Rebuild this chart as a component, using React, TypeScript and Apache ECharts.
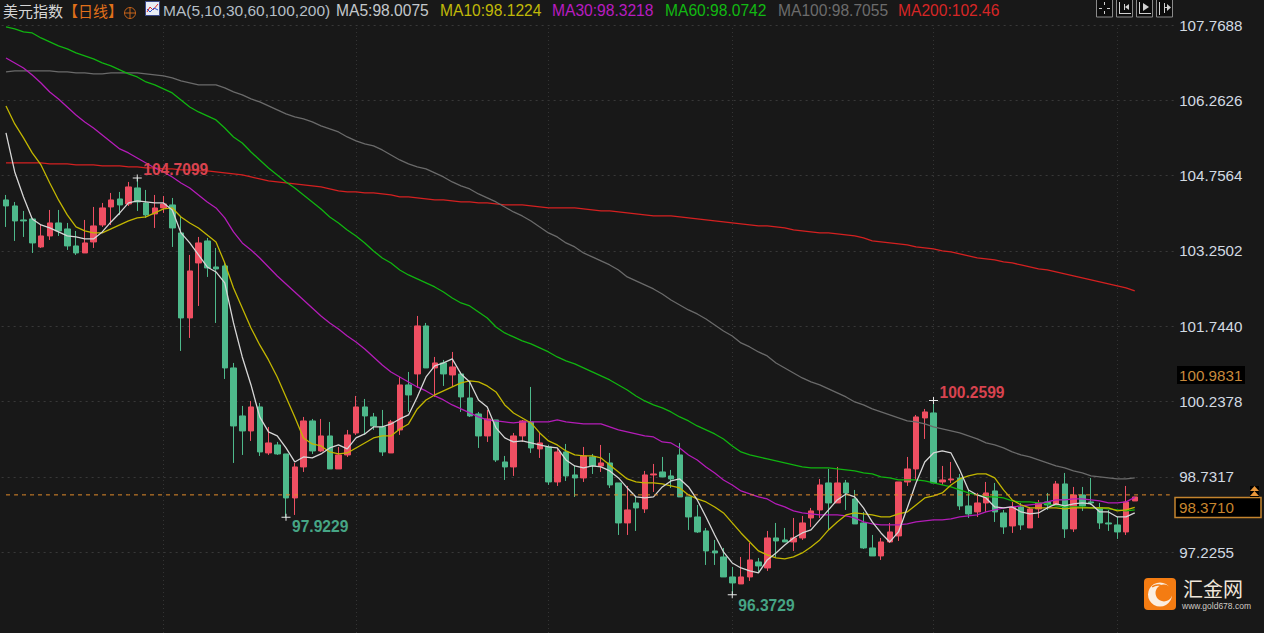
import React, { useEffect, useRef } from "react";
import * as echarts from "echarts";

const LATIN = '"Liberation Sans", Arial, sans-serif';
const CJK = '"Noto Sans CJK SC", sans-serif';

const categories = Array.from({ length: 134 }, (_, i) => String(i + 1));

// open, close, low, high
const candles: number[][] = [
  [104.27,104.15,103.73,104.37],[104.15,103.85,103.45,104.23],[103.87,103.85,103.53,104.05],[103.89,103.41,103.21,103.91],[103.33,103.55,103.31,103.77],[103.55,103.81,103.47,104.07],[103.81,103.65,103.55,104.07],[103.69,103.35,103.27,103.81],[103.35,103.21,103.17,103.65],[103.21,103.41,103.21,103.87],
  [103.43,103.75,103.31,104.13],[103.77,104.11,103.73,104.21],[104.13,104.27,103.77,104.41],[104.29,104.17,103.97,104.43],[104.19,104.53,104.15,104.63],[104.51,104.23,104.05,104.71],[104.21,103.97,103.91,104.47],[103.99,104.11,103.71,104.37],[104.11,104.19,104.01,104.35],[104.17,103.71,103.33,104.31],
  [103.61,101.91,101.25,103.93],[101.91,102.85,101.51,103.17],[103.01,103.41,102.15,103.53],[103.45,102.91,102.73,103.51],[102.93,102.89,101.81,103.31],[102.95,100.91,100.69,103.03],[100.91,99.75,99.01,101.01],[99.95,99.65,99.17,100.15],[99.65,100.13,99.45,100.25],[100.13,99.23,99.15,100.21],
  [99.21,99.41,99.17,99.73],[99.37,99.19,99.17,99.43],[99.19,98.31,97.92,99.19],[98.31,98.93,97.97,99.01],[98.93,99.85,98.83,99.93],[99.85,99.25,99.19,99.89],[99.25,99.55,99.23,99.89],[99.55,98.89,98.89,99.83],[98.89,99.17,98.89,99.33],[99.17,99.57,99.13,99.67],
  [99.61,100.13,99.57,100.35],[100.13,99.95,99.57,100.29],[99.93,99.75,99.67,100.01],[99.73,99.23,99.15,100.07],[99.21,99.83,99.21,99.87],[99.67,100.57,99.57,100.73],[100.57,100.37,100.03,100.83],[100.79,101.75,100.51,101.95],[101.75,100.91,100.91,101.81],[100.91,101.01,100.33,101.13],
  [101.01,100.79,100.55,101.07],[100.77,100.93,100.53,101.23],[100.79,100.33,100.03,100.83],[100.31,99.95,99.93,100.65],[99.99,99.55,99.31,100.03],[99.55,99.89,99.43,100.07],[99.87,99.07,99.03,99.87],[99.03,98.93,98.67,99.15],[98.93,99.55,98.75,99.61],[99.55,99.85,99.43,99.87],
  [99.83,99.31,99.21,100.53],[99.29,99.41,99.11,99.63],[99.33,98.63,98.57,99.37],[98.63,99.23,98.55,99.31],[99.23,98.75,98.65,99.39],[98.77,98.71,98.33,98.95],[98.71,99.15,98.63,99.33],[99.13,98.95,98.79,99.19],[98.95,99.01,98.83,99.37],[99.01,98.57,98.51,99.21],
  [98.61,97.81,97.57,98.61],[97.81,98.07,97.57,98.55],[98.21,98.11,97.65,98.33],[98.09,98.77,98.01,98.85],[98.77,98.79,98.43,98.99],[98.83,98.73,98.73,99.13],[98.75,98.69,98.51,98.87],[99.17,98.33,98.33,99.41],[98.33,97.93,97.67,98.33],[97.93,97.63,97.61,98.17],
  [97.65,97.25,96.97,97.71],[97.25,97.21,96.97,97.47],[97.13,96.73,96.73,97.31],[96.73,96.61,96.37,96.93],[96.59,96.73,96.59,97.13],[96.73,97.07,96.65,97.41],[97.03,96.95,96.81,97.11],[96.91,97.51,96.85,97.65],[97.51,97.45,97.13,97.81],[97.47,97.43,97.43,97.71],
  [97.43,97.51,97.25,97.91],[97.51,97.81,97.47,97.95],[97.91,98.05,97.73,98.11],[98.07,98.57,97.91,98.69],[98.61,98.21,97.67,98.89],[98.21,98.61,98.21,98.93],[98.61,98.41,98.07,98.67],[98.29,97.79,97.79,98.47],[97.81,97.31,97.29,98.03],[97.31,97.15,97.15,97.57],
  [97.15,97.43,97.07,97.51],[97.43,97.63,97.41,97.81],[97.55,98.63,97.45,98.63],[98.63,98.89,98.55,99.13],[98.89,99.93,98.67,99.97],[99.91,100.03,99.49,100.09],[100.01,98.61,98.61,100.26],[98.63,98.67,98.57,98.95],[98.67,98.69,98.61,99.03],[98.71,98.15,98.07,98.79],
  [98.15,97.99,97.91,98.47],[98.03,98.21,97.93,98.41],[98.21,98.41,98.03,98.63],[98.45,98.03,97.83,98.61],[98.01,97.73,97.59,98.07],[97.75,98.13,97.61,98.23],[98.13,97.77,97.67,98.21],[97.71,98.09,97.71,98.13],[98.09,98.21,97.91,98.27],[98.23,98.17,98.07,98.41],
  [98.17,98.59,98.17,98.65],[98.59,97.69,97.51,98.81],[97.69,98.37,97.63,98.53],[98.37,98.15,98.05,98.53],[98.23,98.21,98.17,98.71],[98.11,97.81,97.69,98.21],[97.81,97.79,97.65,98.07],[97.77,97.63,97.49,97.93],[97.63,98.23,97.57,98.55],[98.25,98.33,98.25,98.33],
];

const ma5 = [
  105.61,104.83,104.33,103.89,103.77,103.71,103.63,103.55,103.53,103.49,
  103.49,103.63,103.83,104.01,104.21,104.25,104.23,104.21,104.21,104.07,
  103.61,103.41,103.17,102.93,102.83,102.61,101.81,101.13,100.57,99.93,
  99.63,99.55,99.31,99.03,99.13,99.11,99.19,99.31,99.37,99.29,
  99.51,99.59,99.73,99.73,99.79,99.89,99.97,100.33,100.73,100.95,
  101.01,101.09,100.79,100.63,100.27,100.13,99.71,99.51,99.43,99.45,
  99.41,99.37,99.33,99.31,99.07,98.95,98.91,98.95,98.93,98.85,
  98.71,98.51,98.33,98.31,98.33,98.53,98.65,98.69,98.53,98.27,
  97.93,97.57,97.23,97.01,96.91,96.85,96.81,97.07,97.21,97.37,
  97.51,97.61,97.67,97.87,98.07,98.27,98.39,98.33,98.11,97.83,
  97.61,97.43,97.63,98.11,98.61,99.03,99.21,99.25,99.21,98.87,
  98.47,98.37,98.31,98.13,98.11,98.13,98.03,97.99,98.01,98.11,
  98.19,98.15,98.19,98.21,98.19,98.03,98.03,97.93,97.93,98.01,
];
const ma10 = [
  106.15,105.79,105.51,105.21,104.97,104.61,104.27,103.97,103.73,103.65,
  103.61,103.61,103.69,103.77,103.85,103.91,103.93,104.01,104.09,104.11,
  103.93,103.81,103.71,103.57,103.43,103.01,102.51,102.11,101.71,101.37,
  101.07,100.73,100.33,99.93,99.51,99.39,99.35,99.23,99.19,99.21,
  99.31,99.41,99.51,99.55,99.55,99.69,99.79,100.09,100.27,100.37,
  100.45,100.53,100.61,100.65,100.63,100.55,100.43,100.17,100.01,99.91,
  99.81,99.61,99.45,99.37,99.25,99.17,99.15,99.15,99.11,98.97,
  98.83,98.69,98.63,98.61,98.61,98.59,98.55,98.51,98.37,98.29,
  98.23,98.13,98.01,97.81,97.61,97.43,97.25,97.17,97.11,97.09,
  97.13,97.21,97.33,97.47,97.67,97.83,97.97,98.01,97.99,97.97,
  97.93,97.93,97.99,98.03,98.17,98.31,98.35,98.41,98.57,98.69,
  98.75,98.79,98.79,98.71,98.47,98.27,98.17,98.11,98.11,98.11,
  98.11,98.09,98.11,98.11,98.11,98.11,98.11,98.05,98.07,98.12,
];
const ma30 = [
  107.11,107.01,106.91,106.77,106.61,106.43,106.29,106.13,105.97,105.83,
  105.71,105.57,105.43,105.29,105.21,105.11,105.01,104.91,104.83,104.73,
  104.61,104.51,104.37,104.23,104.11,103.91,103.63,103.41,103.27,103.11,
  102.93,102.75,102.59,102.43,102.27,102.11,101.95,101.81,101.69,101.55,
  101.43,101.29,101.13,100.97,100.83,100.73,100.63,100.53,100.45,100.35,
  100.27,100.17,100.09,100.01,99.93,99.87,99.85,99.83,99.81,99.83,
  99.83,99.83,99.83,99.87,99.83,99.81,99.79,99.79,99.79,99.73,
  99.67,99.63,99.59,99.55,99.53,99.43,99.41,99.31,99.17,99.07,
  98.93,98.81,98.67,98.57,98.45,98.39,98.33,98.29,98.19,98.13,
  98.05,98.01,97.99,97.97,97.97,97.97,97.95,97.91,97.83,97.79,
  97.77,97.77,97.77,97.79,97.83,97.85,97.87,97.87,97.89,97.93,
  97.95,97.97,98.03,98.07,98.11,98.13,98.15,98.17,98.19,98.23,
  98.27,98.27,98.29,98.29,98.27,98.25,98.21,98.21,98.23,98.32,
];
const ma60 = [
  107.73,107.69,107.63,107.61,107.51,107.43,107.35,107.29,107.21,107.15,
  107.09,107.01,106.95,106.87,106.79,106.73,106.63,106.57,106.49,106.41,
  106.27,106.13,106.03,105.95,105.87,105.71,105.53,105.41,105.23,105.07,
  104.91,104.77,104.63,104.51,104.37,104.23,104.09,103.93,103.81,103.67,
  103.55,103.41,103.25,103.11,103.01,102.87,102.77,102.69,102.61,102.53,
  102.43,102.31,102.21,102.15,102.03,101.91,101.73,101.61,101.53,101.45,
  101.39,101.31,101.23,101.13,101.05,100.99,100.91,100.83,100.75,100.67,
  100.57,100.47,100.35,100.25,100.17,100.11,100.03,99.93,99.85,99.75,
  99.67,99.59,99.49,99.35,99.23,99.17,99.13,99.09,99.05,99.01,
  98.97,98.93,98.91,98.91,98.91,98.89,98.87,98.85,98.81,98.79,
  98.73,98.71,98.67,98.67,98.67,98.65,98.61,98.57,98.53,98.47,
  98.41,98.37,98.33,98.33,98.31,98.25,98.23,98.23,98.21,98.19,
  98.15,98.13,98.13,98.13,98.11,98.11,98.09,98.07,98.05,98.07,
];
const ma100 = [
  106.83,106.85,106.85,106.85,106.85,106.85,106.83,106.83,106.81,106.81,
  106.79,106.79,106.81,106.81,106.81,106.81,106.79,106.77,106.75,106.71,
  106.65,106.61,106.57,106.57,106.57,106.51,106.43,106.37,106.29,106.23,
  106.15,106.07,105.99,105.93,105.89,105.83,105.75,105.69,105.63,105.53,
  105.45,105.39,105.35,105.27,105.17,105.07,104.99,104.93,104.89,104.81,
  104.73,104.63,104.55,104.49,104.39,104.31,104.23,104.13,104.03,103.95,
  103.85,103.73,103.61,103.53,103.41,103.33,103.21,103.13,103.05,102.97,
  102.87,102.73,102.65,102.57,102.49,102.39,102.27,102.17,102.07,101.99,
  101.89,101.77,101.65,101.55,101.41,101.33,101.23,101.15,101.01,100.91,
  100.81,100.71,100.63,100.57,100.49,100.41,100.33,100.23,100.17,100.09,
  100.03,99.97,99.91,99.85,99.83,99.79,99.73,99.69,99.65,99.61,
  99.55,99.49,99.41,99.37,99.31,99.23,99.17,99.13,99.07,99.01,
  98.95,98.91,98.85,98.81,98.75,98.73,98.71,98.69,98.69,98.71,
];
const ma200 = [
  105.01,105.01,105.01,105.01,105.01,104.99,104.99,104.99,104.97,104.97,
  104.97,104.95,104.95,104.95,104.93,104.93,104.91,104.91,104.89,104.89,
  104.87,104.87,104.85,104.85,104.83,104.81,104.79,104.77,104.73,104.69,
  104.65,104.63,104.61,104.59,104.57,104.55,104.53,104.49,104.45,104.43,
  104.43,104.41,104.41,104.39,104.37,104.33,104.33,104.31,104.29,104.27,
  104.27,104.25,104.23,104.23,104.21,104.21,104.19,104.17,104.17,104.17,
  104.15,104.13,104.11,104.11,104.11,104.11,104.09,104.07,104.05,104.05,
  104.03,104.01,103.99,103.97,103.95,103.95,103.95,103.93,103.91,103.89,
  103.87,103.85,103.83,103.81,103.79,103.77,103.75,103.75,103.73,103.71,
  103.67,103.65,103.63,103.61,103.61,103.59,103.57,103.55,103.51,103.45,
  103.43,103.41,103.39,103.37,103.33,103.31,103.29,103.25,103.23,103.19,
  103.15,103.11,103.09,103.07,103.03,103.01,102.97,102.93,102.89,102.87,
  102.83,102.79,102.75,102.71,102.67,102.63,102.59,102.55,102.51,102.45,
];

const yTicks = [107.7688, 106.2626, 104.7564, 103.2502, 101.744, 100.2378, 98.7317, 97.2255];
const monthStarts = [18, 40, 62, 83, 106, 127];
const extremes = [
  { index: 15, value: 104.7099, kind: "high", dy: -8 },
  { index: 32, value: 97.9229, kind: "low", dy: 9 },
  { index: 83, value: 96.3729, kind: "low", dy: 11 },
  { index: 106, value: 100.2599, kind: "high", dy: -8 },
];
const lastPrice = 98.371;
const sidePrice = "100.9831";
const legendItems = [
  { text: "MA5:98.0075", x: 336, color: "#c4c8cc" },
  { text: "MA10:98.1224", x: 440, color: "#c0b808" },
  { text: "MA30:98.3218", x: 552, color: "#b81cc0" },
  { text: "MA60:98.0742", x: 665, color: "#12b812" },
  { text: "MA100:98.7055", x: 778, color: "#6c6c6c" },
  { text: "MA200:102.46", x: 898, color: "#d62626" },
];

const BG = "#181818";
const UP = "#ef4f62";
const DOWN = "#4eb98b";

function label(text: string, x: number, y: number, fill: string, font: string, extra: any = {}) {
  return { type: "text", x, y, z: 50, silent: true, style: { text, fill, font, verticalAlign: "middle", ...extra } };
}

function toolButton(x: number, children: any[]) {
  return {
    type: "group",
    x,
    y: 0,
    z: 50,
    silent: true,
    children: [
      { type: "rect", shape: { x: 0.5, y: -1, width: 16, height: 18 }, style: { fill: "#0c0c0c", stroke: "#8a8a8a", lineWidth: 1 } },
      ...children,
    ],
  };
}
const glyph = { stroke: "#d0d0d0", lineWidth: 1, fill: null };
const seg = (x1: number, y1: number, x2: number, y2: number) => ({ type: "line", shape: { x1, y1, x2, y2 }, style: glyph });
const tri = (points: number[][]) => ({ type: "polygon", shape: { points }, style: { fill: "#d0d0d0" } });

const graphics: any[] = [
  label("美元指数", 3, 10.5, "#d6d6d6", `15px ${CJK}`),
  label("【日线】", 63, 10.5, "#e0701a", `15px ${CJK}`),
  { type: "circle", z: 50, silent: true, shape: { cx: 130, cy: 13, r: 5.5 }, style: { fill: "none", stroke: "#c8641a", lineWidth: 1 } },
  { type: "line", z: 50, silent: true, shape: { x1: 124.5, y1: 13, x2: 135.5, y2: 13 }, style: { stroke: "#c8641a" } },
  { type: "line", z: 50, silent: true, shape: { x1: 130, y1: 7.5, x2: 130, y2: 18.5 }, style: { stroke: "#c8641a" } },
  { type: "rect", z: 50, silent: true, shape: { x: 145.5, y: 1.5, width: 14, height: 14 }, style: { fill: "#e8ecf4", stroke: "#3c4a8c", lineWidth: 1 } },
  { type: "polyline", z: 51, silent: true, shape: { points: [[147, 12], [150, 7], [153, 10], [158, 4]] }, style: { stroke: "#e02828", fill: null, lineWidth: 1 } },
  { type: "polyline", z: 51, silent: true, shape: { points: [[147, 9], [150, 12], [154, 8], [158, 10]] }, style: { stroke: "#2850d0", fill: null, lineWidth: 1 } },
  label("MA(5,10,30,60,100,200)", 163, 10.5, "#b4bec6", `15.5px ${LATIN}`),
  ...legendItems.map((d) => label(d.text, d.x, 10.5, d.color, `15.6px ${LATIN}`)),

  toolButton(1096, [seg(8.5, 2, 8.5, 5), seg(8.5, 11, 8.5, 14), seg(3, 8.5, 6, 8.5), seg(11, 8.5, 14, 8.5)]),
  toolButton(1116, [seg(3.5, 2, 3.5, 14), seg(3.5, 13.5, 15, 13.5), seg(8.5, 4, 8.5, 10), tri([[13, 4], [13, 10], [9, 7]])]),
  toolButton(1136, [seg(3.5, 2, 3.5, 14), seg(3.5, 13.5, 15, 13.5), tri([[7, 3], [7, 11], [13, 7]])]),
  toolButton(1156, [seg(3.5, 2, 3.5, 15), seg(8.5, 3, 8.5, 13), seg(8.5, 7.5, 11, 7.5), tri([[11, 4], [11, 11], [15, 7.5]])]),

  { type: "rect", z: 50, silent: true, shape: { x: 1177, y: 366, width: 68, height: 18 }, style: { fill: "#000000" } },
  label(sidePrice, 1179, 375, "#c88a3c", `15.2px ${LATIN}`),
  { type: "rect", z: 50, silent: true, shape: { x: 1175, y: 497.5, width: 86, height: 20 }, style: { fill: "#000000", stroke: "#c4842e", lineWidth: 1.5 } },
  label(lastPrice.toFixed(4), 1179, 507.5, "#c8862e", `15.2px ${LATIN}`),
  { type: "rect", z: 50, silent: true, shape: { x: 1250, y: 486, width: 9, height: 11 }, style: { fill: "#000000" } },
  { type: "polygon", z: 51, silent: true, shape: { points: [[1254.5, 486], [1250, 491], [1259, 491]] }, style: { fill: "#e8963a" } },
  { type: "polygon", z: 51, silent: true, shape: { points: [[1254.5, 491], [1250, 496], [1259, 496]] }, style: { fill: "#e8963a" } },

  { type: "rect", z: 50, silent: true, shape: { x: 1144, y: 578, width: 32, height: 32, r: 4 }, style: { fill: "#f47c12" } },
  { type: "circle", z: 51, silent: true, shape: { cx: 1160, cy: 594.5, r: 12 }, style: { fill: "#fbeee0" } },
  { type: "circle", z: 52, silent: true, shape: { cx: 1164, cy: 593, r: 8.5 }, style: { fill: "#f47c12" } },
  { type: "arc", z: 53, silent: true, shape: { cx: 1158, cy: 595, r: 10, startAngle: -2.2, endAngle: -0.7 }, style: { stroke: "#f47c12", lineWidth: 1.5, fill: null } },
  label("汇金网", 1183, 588, "#efe6da", `20px ${CJK}`),
  label("www.gold678.com", 1182, 606, "#cfcac4", `8.5px ${LATIN}`),
];

const lineSeries = (name: string, data: number[], color: string) => ({
  name,
  type: "line",
  data,
  showSymbol: false,
  symbol: "none",
  smooth: false,
  silent: true,
  z: 3,
  lineStyle: { color, width: 1.3 },
});

const option: any = {
  animation: false,
  backgroundColor: BG,
  graphic: graphics,
  grid: { left: 1.625, top: 25, width: 1172.5, height: 608, containLabel: false },
  xAxis: {
    type: "category",
    data: categories,
    boundaryGap: true,
    axisLine: { show: false },
    axisTick: { show: false },
    axisLabel: { show: false },
    splitLine: { show: false },
  },
  yAxis: {
    type: "value",
    position: "right",
    min: 95.6088,
    max: 107.7688,
    axisLine: { show: false },
    axisTick: { show: false, customValues: yTicks },
    axisLabel: {
      customValues: yTicks,
      margin: 5,
      padding: [0, 0, 4, 0],
      color: "#d2dae2",
      fontSize: 15.2,
      fontFamily: LATIN,
      formatter: (v: number) => v.toFixed(4),
    },
    splitLine: { show: true, lineStyle: { color: "#383838", width: 1, type: [2, 4] } },
  },
  series: [
    {
      name: "grid",
      type: "line",
      data: [],
      silent: true,
      z: 1,
      markLine: {
        silent: true,
        z: 1,
        symbol: "none",
        label: { show: false },
        lineStyle: { color: "#343434", width: 1, type: [1, 3] },
        data: monthStarts.map((i) => ({ xAxis: i })),
      },
    },
    {
      name: "美元指数",
      type: "candlestick",
      data: candles,
      barWidth: 6,
      silent: true,
      z: 2,
      itemStyle: { color: UP, color0: DOWN, borderColor: UP, borderColor0: DOWN, borderWidth: 1 },
      markPoint: {
        silent: true,
        symbol: "path://M4 0h1v7h-1zM0 3h9v1h-9z",
        symbolSize: [9, 7],
        itemStyle: { color: "#e6e6e6" },
        data: extremes.map((e) => ({
          coord: [e.index, e.value],
          value: e.value,
          label: {
            show: true,
            position: "right",
            distance: 0,
            offset: [1.5, e.dy],
            formatter: e.value.toFixed(4),
            color: e.kind === "high" ? "#d8434f" : "#46a585",
            fontSize: 15.6,
            fontWeight: "bold",
            fontFamily: LATIN,
          },
        })),
      },
    },
    lineSeries("MA200", ma200, "#d42020"),
    lineSeries("MA100", ma100, "#6a6a6a"),
    lineSeries("MA60", ma60, "#10b410"),
    lineSeries("MA30", ma30, "#b41cb8"),
    lineSeries("MA10", ma10, "#c2b600"),
    lineSeries("MA5", ma5, "#d6d6d6"),
    {
      name: "last",
      type: "line",
      data: categories.map(() => lastPrice),
      showSymbol: false,
      symbol: "none",
      silent: true,
      z: 6,
      lineStyle: { color: "#e08a2a", width: 1, type: [4, 4] },
    },
  ],
};

export default function App() {
  const ref = useRef<HTMLDivElement>(null);
  useEffect(() => {
    document.body.style.margin = "0";
    document.body.style.background = BG;
    const chart = echarts.init(ref.current!, undefined, { renderer: "svg" });
    chart.setOption(option);
    return () => chart.dispose();
  }, []);
  return <div ref={ref} style={{ width: 1264, height: 633 }} />;
}
